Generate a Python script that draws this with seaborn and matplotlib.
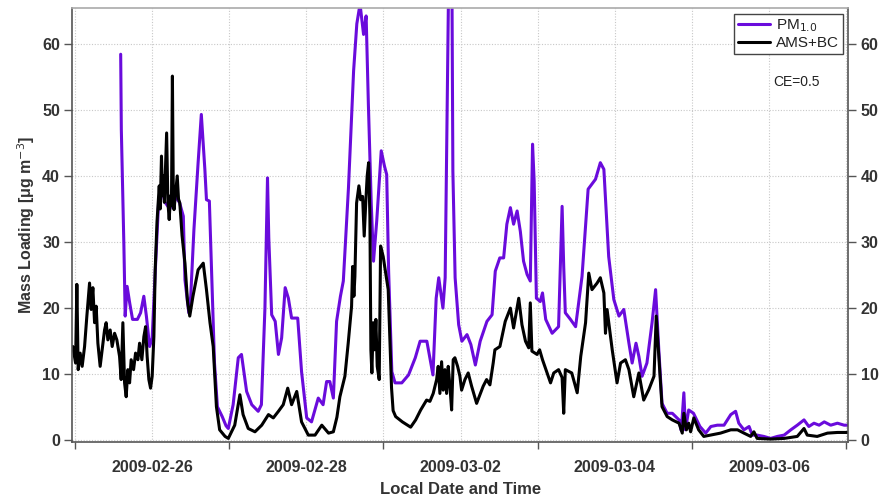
import numpy as np
import pandas as pd
import seaborn as sns
import matplotlib
matplotlib.use("Agg")
import matplotlib.pyplot as plt
import matplotlib.dates as mdates
import matplotlib.ticker as mticker

# ---------------- data (hours since 2009-02-25 00:00 local) ----------------
start_time = "2009-02-25 00:00"

pm_hours = [14.2, 14.4, 14.9, 15.2, 15.6, 16.2, 17.0, 17.9, 19.4, 20.4, 21.4, 22.2, 23.2,
            24.0, 25.0, 26.0, 27.0, 28.0, 29.5, 31.0, 32.5, 33.7, 34.2, 35.4, 36.0, 37.0,
            38.3, 39.3, 40.4, 40.9, 41.8, 42.6, 43.4, 44.3, 45.8, 47.0, 47.7, 49.2, 50.8,
            51.8, 53.4, 55.0, 57.0, 58.0, 59.1, 59.9, 60.3, 61.2, 62.3, 63.3, 64.3, 65.4,
            66.4, 67.4, 69.3, 70.5, 72.1, 73.6, 75.7, 77.2, 78.3, 79.3, 80.4, 81.4, 82.6,
            83.5, 85.1, 86.7, 87.7, 88.7, 89.8, 90.6, 91.3, 92.2, 92.9, 93.9, 95.3, 96.3,
            97.0, 97.6, 98.6, 99.6, 101.7, 103.8, 105.9, 107.4, 109.5, 111.4, 112.4, 113.2,
            114.5, 115.2, 115.7, 116.3, 117.3, 117.6, 118.3, 119.4, 120.4, 122.0, 123.2,
            124.6, 126.1, 128.2, 129.8, 130.8, 132.2, 133.4, 134.4, 135.5, 136.5, 137.6,
            138.6, 139.6, 140.7, 141.7, 142.4, 142.9, 143.6, 144.8, 145.5, 146.5, 148.5,
            150.5, 151.6, 152.1, 152.6, 154.2, 155.8, 157.8, 159.7, 162.0, 163.5, 164.6,
            166.1, 167.7, 169.3, 170.8, 172.4, 173.4, 174.6, 175.5, 176.5, 178.0, 179.6,
            180.7, 181.7, 182.7, 184.3, 185.9, 188.0, 188.7, 189.5, 190.0, 191.0, 192.5,
            194.5, 196.3, 197.9, 199.9, 202.0, 204.1, 205.6, 206.6, 208.2, 209.8, 210.8,
            212.3, 214.4, 216.5, 218.6, 220.7, 222.8, 224.8, 226.9, 228.4, 230.0, 231.6,
            233.2, 235.2, 237.3, 239.4, 241.0]
pm_values = [58.4, 47.0, 36.0, 29.4, 18.8, 23.3, 20.8, 18.3, 18.3, 19.3, 21.8, 18.8, 14.2,
             15.5, 26.0, 36.0, 38.0, 36.0, 35.0, 37.0, 36.0, 33.9, 24.3, 19.3, 21.8, 31.9,
             42.0, 49.3, 41.0, 36.4, 36.2, 23.9, 11.7, 5.1, 3.6, 2.2, 1.8, 5.4, 12.5,
             13.0, 7.4, 5.4, 4.4, 5.4, 20.0, 39.7, 30.6, 19.0, 18.0, 13.0, 15.5, 23.1,
             21.5, 18.5, 18.5, 10.4, 3.4, 2.8, 6.4, 5.4, 8.9, 8.9, 6.4, 18.0, 21.8,
             24.1, 38.2, 55.9, 63.0, 66.0, 61.4, 64.2, 50.8, 35.7, 27.1, 33.2, 43.8, 41.5,
             40.2, 25.6, 10.4, 8.7, 8.7, 9.9, 12.5, 15.0, 15.0, 9.9, 21.5, 24.6,
             20.0, 24.6, 45.8, 70.0, 70.0, 40.7, 24.6, 17.5, 15.0, 16.0, 14.5,
             11.4, 15.0, 18.0, 19.0, 25.6, 27.6, 27.6, 32.7, 35.2, 32.7, 34.7,
             31.6, 27.1, 25.1, 24.1, 44.8, 39.2, 21.5, 21.0, 22.3, 18.3, 16.2,
             17.2, 35.4, 26.3, 19.3, 18.3, 17.2, 24.8, 38.0, 39.5, 42.0, 41.0,
             27.8, 21.3, 18.8, 19.8, 14.7, 11.7, 14.7, 12.7, 9.7, 11.7, 17.8,
             22.8, 13.7, 5.6, 4.1, 4.1, 3.1, 1.5, 7.2, 1.6, 4.6, 4.1,
             2.1, 1.1, 2.1, 2.3, 2.3, 3.9, 4.4, 2.6, 1.6, 2.1, 0.8,
             0.8, 0.6, 0.3, 0.6, 0.8, 1.6, 2.3, 3.1, 2.1, 2.6, 2.3,
             2.8, 2.3, 2.6, 2.3, 2.3]

ams_hours = [-0.7, 0.16, 0.56, 0.97, 1.59, 2.21, 2.96, 3.67, 4.51, 5.01, 5.54, 6.07, 6.57,
             7.10, 7.81, 8.44, 9.18, 9.68, 10.21, 10.93, 11.55, 12.30, 13.01, 13.85, 14.35,
             14.88, 15.41, 15.91, 16.44, 16.97, 17.46, 18.21, 18.83, 19.55, 20.08, 20.79,
             21.42, 21.95, 22.44, 22.97, 23.50, 24.00, 24.53, 24.94, 25.5, 26.2, 26.5, 26.9,
             27.2, 27.4, 27.8, 28.5, 28.9, 29.3, 29.7, 30.0, 30.3, 30.6, 30.8, 31.2, 31.8,
             32.2, 32.6, 33.3, 34.2, 35.0, 35.7, 36.7, 38.3, 39.9, 40.9, 42.0, 43.0, 44.0,
             45.0, 46.7, 47.7, 49.7, 51.3, 52.3, 53.9, 56.0, 58.1, 60.2, 61.7, 63.3, 64.8,
             66.2, 67.4, 69.0, 70.5, 72.6, 74.7, 76.8, 78.9, 80.4, 81.5, 82.43, 83.99,
             85.02, 86.07, 86.39, 86.79, 87.10, 87.63, 88.35, 88.88, 89.50, 90.00, 90.53,
             90.93, 91.37, 91.77, 92.08, 92.39, 92.80, 93.24, 93.64, 94.05, 94.67, 95.10,
             95.91, 97.47, 98.5, 99.0, 99.79, 101.88, 104.46, 106.02, 107.58, 109.42, 110.45,
             111.48, 112.54, 113.03, 113.56, 114.09, 114.59, 115.12, 115.65, 116.15, 116.68,
             117.21, 117.70, 118.23, 119.07, 119.79, 120.32, 121.35, 122.37, 123.43, 124.99,
             126.02, 127.04, 128.10, 129.13, 130.15, 130.68, 132.24, 133.9, 135.5, 136.5,
             138.1, 139.1, 140.2, 141.2, 141.7, 142.2, 143.8, 144.6, 145.5, 148.0, 149.0,
             150.5, 151.6, 152.1, 152.6, 154.6, 156.3, 157.4, 158.9, 159.9, 160.9, 162.5,
             163.5, 164.6, 165.1, 165.6, 167.2, 168.7, 169.8, 171.3, 172.4, 173.9, 175.5,
             177.0, 178.6, 180.2, 180.9, 181.7, 182.7, 184.3, 185.9, 188.0, 189.0, 189.5,
             190.3, 191.0, 191.6, 192.6, 194.1, 195.7, 197.8, 200.9, 204.1, 206.2, 208.2,
             210.3, 211.3, 212.3, 216.5, 220.7, 224.8, 226.9, 227.9, 231.0, 234.2, 237.3,
             241.0]
ams_values = [14.2, 11.7, 23.6, 10.7, 13.2, 11.2, 14.2, 18.8, 23.8, 19.8, 23.1, 17.8, 20.3,
              14.7, 11.2, 13.7, 16.7, 17.8, 15.2, 16.7, 14.2, 16.2, 15.2, 12.7, 9.2,
              17.8, 8.7, 6.6, 10.7, 8.7, 12.2, 10.7, 13.2, 12.2, 14.7, 12.2,
              15.7, 17.2, 12.7, 9.2, 7.9, 9.7, 15.7, 25.8, 33.0, 38.5, 35.0, 43.0,
              37.0, 40.0, 36.0, 46.5, 36.0, 33.4, 37.0, 35.5, 55.1, 36.0, 34.9, 37.0, 40.0,
              36.5, 35.9, 31.0, 26.8, 21.0, 18.8, 21.8, 25.8, 26.8, 22.8, 17.8, 14.2, 5.1,
              1.6, 0.6, 0.3, 2.3, 6.9, 3.9, 1.8, 1.3, 2.3, 3.9, 3.4, 4.4, 5.4,
              7.9, 5.4, 7.4, 2.8, 0.8, 0.8, 2.3, 1.1, 1.3, 3.5, 6.6, 9.7,
              14.7, 20.3, 26.3, 21.8, 24.8, 35.9, 38.5, 36.4, 36.9, 30.9, 36.4,
              40.0, 42.0, 33.9, 13.7, 10.2, 17.8, 13.7, 18.3, 11.2, 9.2, 29.4,
              27.8, 22.8, 8.0, 4.5, 3.6, 2.8, 2.0, 3.1, 4.6, 6.1, 5.9,
              7.1, 9.2, 11.2, 7.1, 11.9, 7.6, 10.7, 7.1, 11.2, 8.2,
              4.6, 12.2, 12.5, 11.2, 9.7, 7.6, 9.2, 10.2, 8.2, 5.6,
              6.9, 8.2, 9.2, 8.4, 11.7, 13.7, 14.2, 18.0, 20.0, 17.0,
              21.5, 17.5, 15.0, 14.0, 20.8, 13.5, 13.0, 13.7, 12.2, 8.7, 10.2,
              10.7, 9.5, 4.1, 10.7, 10.2, 7.2, 12.7, 17.8, 25.3, 22.8, 23.8,
              24.6, 22.3, 16.2, 19.8, 13.7, 8.7, 11.7, 12.2, 10.7, 6.6, 10.2,
              6.1, 7.7, 9.7, 18.8, 12.7, 5.1, 3.6, 3.1, 2.6, 1.1, 4.1,
              1.6, 2.6, 1.3, 3.4, 1.6, 0.6, 0.8, 1.1, 1.6, 1.6, 1.1,
              0.6, 1.3, 0.3, 0.2, 0.3, 0.6, 1.8, 0.8, 0.6, 1.1, 1.2,
              1.2]

series_names = ["PM$_{1.0}$", "AMS+BC"]
series_colors = ["#6A0BDC", "#000000"]
major_tick_dates = ["2009-02-26", "2009-02-28", "2009-03-02", "2009-03-04", "2009-03-06"]
y_ticks = [0, 10, 20, 30, 40, 50, 60]

# ---------------- build frame ----------------
t0 = pd.Timestamp(start_time)
df = pd.concat([
    pd.DataFrame({"time": t0 + pd.to_timedelta(pm_hours, unit="h"),
                  "value": pm_values, "series": series_names[0]}),
    pd.DataFrame({"time": t0 + pd.to_timedelta(ams_hours, unit="h"),
                  "value": ams_values, "series": series_names[1]}),
], ignore_index=True)

sns.set_theme(style="white")
plt.rcParams["font.family"] = ["Liberation Sans", "DejaVu Sans"]

fig = plt.figure(figsize=(8.83, 4.99), dpi=100)
ax = fig.add_axes([0.0821, 0.1148, 0.8783, 0.8692])

sns.lineplot(data=df, x="time", y="value", hue="series", hue_order=series_names,
             palette=series_colors, linewidth=2.2, sort=False, ax=ax,
             estimator=None)

# axes limits
ax.set_xlim(t0 - pd.Timedelta(hours=0.8), t0 + pd.Timedelta(hours=240.6))
ax.set_ylim(-0.2, 65.4)

# ticks
ax.xaxis.set_major_locator(mticker.FixedLocator(mdates.date2num(pd.to_datetime(major_tick_dates))))
ax.xaxis.set_major_formatter(mdates.DateFormatter("%Y-%m-%d"))
ax.xaxis.set_minor_locator(mdates.DayLocator())
ax.set_yticks(y_ticks)

tick_col = "#333333"
ax.tick_params(axis="x", which="major", direction="out", length=9, width=1.0,
               colors="#555555", labelcolor=tick_col, labelsize=11.5, pad=4)
ax.tick_params(axis="x", which="minor", direction="out", length=5, width=1.0,
               colors="#555555", bottom=True)
ax.tick_params(axis="y", which="major", direction="out", length=6, width=1.0,
               colors="#555555", labelcolor=tick_col, labelsize=11.5,
               left=True, right=True, labelleft=True, labelright=True, pad=3)
for lab in ax.get_xticklabels() + ax.get_yticklabels():
    lab.set_fontweight("bold")
for t in ax.yaxis.get_major_ticks():
    t.label2.set_fontweight("bold")

# grid
ax.grid(True, which="minor", axis="x", linestyle=(0, (1, 1.5)), color="#c8c8c8", linewidth=0.8)
ax.grid(True, which="major", axis="x", linestyle=(0, (1, 1.5)), color="#c8c8c8", linewidth=0.8)
ax.grid(True, which="major", axis="y", linestyle=(0, (1, 1.5)), color="#c8c8c8", linewidth=0.8)

# spines
for side in ["left", "bottom", "right"]:
    ax.spines[side].set_color("#555555")
    ax.spines[side].set_linewidth(1.2)
ax.spines["top"].set_color("#aaaaaa")
ax.spines["top"].set_linewidth(1.2)

ax.set_xlabel("Local Date and Time", fontsize=12, fontweight="bold", color="#333333", labelpad=5)
ax.set_ylabel("Mass Loading [μg m$^{-3}$]", fontsize=11.5, fontweight="bold", color="#333333", labelpad=4)

# legend
handles, labels = ax.get_legend_handles_labels()
leg = ax.legend(handles, labels, loc="upper right", bbox_to_anchor=(0.993, 0.987),
                frameon=True, fancybox=False, framealpha=1, edgecolor="#444444",
                fontsize=11, handlelength=2.1, handletextpad=0.4, borderpad=0.25,
                labelspacing=0.15, borderaxespad=0)
leg.get_frame().set_linewidth(1.0)
for txt in leg.get_texts():
    txt.set_color("#222222")

ax.text(0.934, 0.829, "CE=0.5", transform=ax.transAxes, ha="center", va="center",
        fontsize=10, color="#222222")

fig.savefig("out.png", dpi=100)
